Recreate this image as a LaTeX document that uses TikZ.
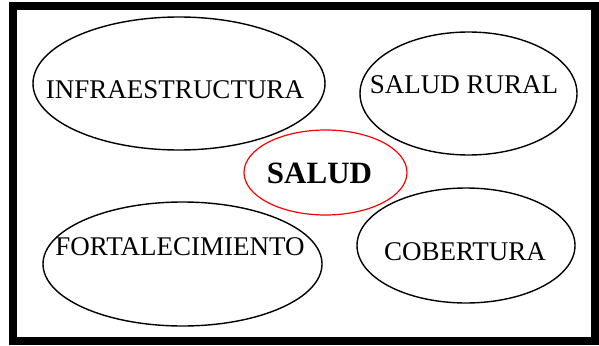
\documentclass[tikz,border=0pt]{standalone}
\usepackage{fontspec}
\setmainfont{Liberation Serif}
\usetikzlibrary{shapes.geometric}
\begin{document}
\begin{tikzpicture}[x=1pt,y=-1pt,
        bubble/.style={draw,ellipse,line width=1.4pt,inner sep=0pt},
        word/.style={inner sep=0pt,font=\fontsize{27}{30}\selectfont}]
        \useasboundingbox (0,0) rectangle (599,345);
        % Draw frame
        \draw [line width=8pt] (13,6) rectangle (595,341);
        % Draw outer ellipses
        \foreach \name/\cx/\cy/\rx/\ry/\tx/\ty/\txt in {infra/179/83.5/146/66.5/175/89.7/INFRAESTRUCTURA, rural/468.5/93.5/108.5/61.5/464/84.7/SALUD RURAL, forta/182.5/264/139.5/62/180/247/FORTALECIMIENTO, cober/466/245.5/109/57.5/465/251.7/COBERTURA} {
            \node [bubble,minimum width=2*\rx,minimum height=2*\ry] (\name) at (\cx,\cy) {};
            \node [word] (\name-text) at (\tx,\ty) {\txt};
        }
        % Draw centre
        \node [bubble,draw=red,line width=1.2pt,minimum width=163,minimum height=85] (salud) at (325.5,172.5) {};
        \node [word,font=\fontsize{31}{34}\selectfont\bfseries] (salud-text) at (319.5,173) {SALUD};
    \end{tikzpicture}
\end{document}
